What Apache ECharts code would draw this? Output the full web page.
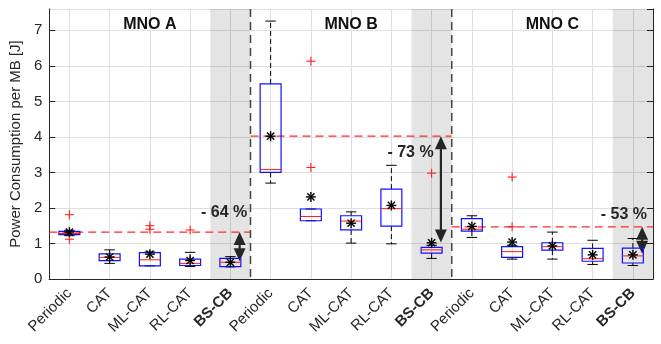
<!DOCTYPE html>
<html><head><meta charset="utf-8">
<script src="https://cdn.jsdelivr.net/npm/echarts@6/dist/echarts.min.js"></script>
<style>html,body{margin:0;padding:0;background:#fff}#c{width:661px;height:344px}</style>
</head><body><div id="c"></div>
<script>
const methods = ['Periodic', 'CAT', 'ML-CAT', 'RL-CAT', 'BS-CB'];
const categories = [...methods, ...methods, ...methods];
const groupTitles = ['MNO A', 'MNO B', 'MNO C'];
const yTickLabels = ['0', '1', '2', '3', '4', '5', '6', '7'];

// box statistics per category (A: 0-4, B: 5-9, C: 10-14)
const whiskerLow  = [1.22, 0.44, 0.37, 0.35, 0.34,  2.70, 1.64, 1.01, 0.99, 0.58,  1.17, 0.56, 0.56, 0.41, 0.38];
const quartile1   = [1.25, 0.52, 0.37, 0.38, 0.35,  3.00, 1.64, 1.38, 1.49, 0.73,  1.35, 0.61, 0.81, 0.50, 0.45];
const medians     = [1.28, 0.61, 0.54, 0.44, 0.47,  3.08, 1.76, 1.63, 1.98, 0.82,  1.40, 0.77, 0.91, 0.57, 0.65];
const quartile3   = [1.34, 0.71, 0.74, 0.56, 0.58,  5.49, 1.97, 1.78, 2.53, 0.89,  1.70, 0.91, 1.02, 0.86, 0.87];
const whiskerHigh = [1.37, 0.82, 0.76, 0.75, 0.63,  7.26, 1.97, 1.89, 3.20, 0.95,  1.78, 0.95, 1.32, 1.09, 1.14];
const means       = [1.32, 0.62, 0.70, 0.52, 0.47,  4.02, 2.31, 1.57, 2.07, 1.02,  1.48, 1.04, 0.93, 0.68, 0.68];
// outliers: [category index, value]
const outliers = [[0, 1.81], [0, 1.12], [2, 1.50], [2, 1.40], [3, 1.38],
                  [6, 6.13], [6, 3.14], [9, 2.98],
                  [11, 2.87], [11, 1.47]];
// reference (periodic mean) lines per group and reduction
const refValues = [1.32, 4.02, 1.47];
const arrowEnds = [0.50, 1.03, 0.71];
const pctTexts = ['- 64 %', '- 73 %', '- 53 %'];
const pctY = [1.87, 3.56, 1.81];
const shadedIdx = [4, 9, 14];
const titleY = 7.17;

const TXT = '#262626';
const FONT = '"Liberation Sans", Arial, Helvetica, sans-serif';

const boxData = categories.map((c, i) => [i, whiskerLow[i], quartile1[i], medians[i], quartile3[i], whiskerHigh[i]]);
const meanData = means.map((m, i) => [i, m]);

function renderBox(params, api) {
  const i = api.value(0);
  const band = api.size([1, 0])[0];
  const lo = api.coord([i, api.value(1)]);
  const q1 = api.coord([i, api.value(2)]);
  const md = api.coord([i, api.value(3)]);
  const q3 = api.coord([i, api.value(4)]);
  const hi = api.coord([i, api.value(5)]);
  const cx = lo[0];
  const bw = band * 0.52, cw = band * 0.26;
  const wStyle = { stroke: '#000', lineWidth: 1, lineDash: [5, 3] };
  const cStyle = { stroke: '#000', lineWidth: 1 };
  return {
    type: 'group', children: [
      { type: 'line', shape: { x1: cx, y1: q3[1], x2: cx, y2: hi[1] }, style: wStyle },
      { type: 'line', shape: { x1: cx, y1: q1[1], x2: cx, y2: lo[1] }, style: wStyle },
      { type: 'line', shape: { x1: cx - cw / 2, y1: hi[1], x2: cx + cw / 2, y2: hi[1] }, style: cStyle },
      { type: 'line', shape: { x1: cx - cw / 2, y1: lo[1], x2: cx + cw / 2, y2: lo[1] }, style: cStyle },
      { type: 'rect', shape: { x: cx - bw / 2, y: q3[1], width: bw, height: q1[1] - q3[1] }, style: { fill: 'none', stroke: '#1010ff', lineWidth: 1.2 } },
      { type: 'line', shape: { x1: cx - bw / 2, y1: md[1], x2: cx + bw / 2, y2: md[1] }, style: { stroke: '#ff1a1a', lineWidth: 1 } }
    ]
  };
}

function renderStar(params, api) {
  const p = api.coord([api.value(0), api.value(1)]);
  const r = 5, d = r * 0.72;
  const s = { stroke: '#000', lineWidth: 1.4 };
  return { type: 'group', children: [
    { type: 'line', shape: { x1: p[0], y1: p[1] - r, x2: p[0], y2: p[1] + r }, style: s },
    { type: 'line', shape: { x1: p[0] - r, y1: p[1], x2: p[0] + r, y2: p[1] }, style: s },
    { type: 'line', shape: { x1: p[0] - d, y1: p[1] - d, x2: p[0] + d, y2: p[1] + d }, style: s },
    { type: 'line', shape: { x1: p[0] - d, y1: p[1] + d, x2: p[0] + d, y2: p[1] - d }, style: s }
  ]};
}

function renderPlus(params, api) {
  const p = api.coord([api.value(0), api.value(1)]);
  const r = 4.5;
  const s = { stroke: '#ff2020', lineWidth: 1.1 };
  return { type: 'group', children: [
    { type: 'line', shape: { x1: p[0], y1: p[1] - r, x2: p[0], y2: p[1] + r }, style: s },
    { type: 'line', shape: { x1: p[0] - r, y1: p[1], x2: p[0] + r, y2: p[1] }, style: s }
  ]};
}

function renderShade(params, api) {
  const c = api.coord([api.value(0), 0]);
  const band = api.size([1, 0])[0];
  const cs = params.coordSys;
  return { type: 'rect', shape: { x: c[0] - band / 2, y: cs.y, width: band, height: cs.height },
    style: { fill: 'rgba(0,0,0,0.105)' } };
}

function renderGroupDecor(params, api) {
  const g = params.dataIndex;
  const band = api.size([1, 0])[0];
  const cs = params.coordSys;
  const first = g * 5, last = g * 5 + 4;
  const ref = refValues[g];
  const xL = api.coord([first, ref])[0] - band / 2;
  const xR = api.coord([last, ref])[0] + band / 2;
  const yRef = api.coord([first, ref])[1];
  const children = [];
  children.push({ type: 'line', shape: { x1: xL, y1: yRef, x2: xR, y2: yRef },
    style: { stroke: '#ff2a2a', lineWidth: 1.2, lineDash: [8, 5] } });
  if (g < 2) {
    children.push({ type: 'line', shape: { x1: xR, y1: cs.y, x2: xR, y2: cs.y + cs.height },
      style: { stroke: '#444', lineWidth: 1.5, lineDash: [8, 5] } });
  }
  const ax = api.coord([last, ref])[0] + band * 0.23;
  const yTop = yRef;
  const yBot = api.coord([last, arrowEnds[g]])[1];
  const hl = 13, hw = 6;
  children.push({ type: 'line', shape: { x1: ax, y1: yTop + hl - 1, x2: ax, y2: yBot - hl + 1 },
    style: { stroke: '#262626', lineWidth: 2.2 } });
  children.push({ type: 'polygon', shape: { points: [[ax, yTop], [ax - hw, yTop + hl], [ax + hw, yTop + hl]] },
    style: { fill: '#262626' } });
  children.push({ type: 'polygon', shape: { points: [[ax, yBot], [ax - hw, yBot - hl], [ax + hw, yBot - hl]] },
    style: { fill: '#262626' } });
  const pxOff = [0.42, 0.05, 0.35][g];
  const tx = api.coord([last, pctY[g]])[0] + band * pxOff;
  const ty = api.coord([last, pctY[g]])[1];
  children.push({ type: 'text', x: tx, y: ty, style: { text: pctTexts[g], fill: TXT,
    font: 'bold 16px ' + FONT, align: 'right', verticalAlign: 'middle' } });
  const mid = api.coord([first + 2, titleY]);
  children.push({ type: 'text', x: mid[0], y: mid[1], style: { text: groupTitles[g], fill: '#111',
    font: 'bold 16px ' + FONT, align: 'center', verticalAlign: 'middle' } });
  return { type: 'group', children };
}

const chart = echarts.init(document.getElementById('c'));
chart.setOption({
  animation: false,
  grid: { left: 49, right: 8, top: 9, bottom: 65 },
  xAxis: [{
    type: 'category', data: categories, boundaryGap: true,
    axisLine: { lineStyle: { color: TXT, width: 1 } },
    axisTick: { alignWithLabel: true, inside: true, length: 5, lineStyle: { color: TXT } },
    splitLine: { show: true, alignWithLabel: true, lineStyle: { color: '#dfdfdf', width: 1 } },
    axisLabel: {
      rotate: 45, margin: 12, color: TXT, interval: 0,
      formatter: v => v === 'BS-CB' ? '{b|' + v + '}' : '{n|' + v + '}',
      rich: {
        n: { fontSize: 15, fontFamily: FONT, color: TXT },
        b: { fontSize: 15, fontFamily: FONT, color: TXT, fontWeight: 'bold' }
      }
    }
  }, {
    type: 'category', data: categories, position: 'top', boundaryGap: true,
    axisLine: { lineStyle: { color: TXT, width: 1 } },
    axisTick: { alignWithLabel: true, inside: true, length: 5, lineStyle: { color: TXT } },
    axisLabel: { show: false }, splitLine: { show: false }
  }],
  yAxis: [{
    type: 'value', min: 0, max: 7.6, interval: 1,
    name: 'Power Consumption per MB [J]', nameLocation: 'middle', nameGap: 20,
    nameTextStyle: { fontSize: 15, fontFamily: FONT, color: TXT },
    axisLine: { show: true, lineStyle: { color: TXT, width: 1 } },
    axisTick: { show: true, inside: true, length: 6, lineStyle: { color: TXT } },
    splitLine: { show: true, lineStyle: { color: '#dfdfdf', width: 1 } },
    axisLabel: { fontSize: 15, fontFamily: FONT, color: TXT, margin: 7, showMaxLabel: false,
      formatter: v => yTickLabels[Math.round(v)] !== undefined && Math.abs(v - Math.round(v)) < 1e-6 ? yTickLabels[Math.round(v)] : '' }
  }, {
    type: 'value', min: 0, max: 7.6, interval: 1, position: 'right',
    axisLine: { show: true, lineStyle: { color: TXT, width: 1 } },
    axisTick: { show: true, inside: true, length: 6, lineStyle: { color: TXT } },
    splitLine: { show: false }, axisLabel: { show: false }
  }],
  series: [
    { type: 'custom', renderItem: renderShade, data: shadedIdx.map(i => [i, 0]), encode: { x: 0, y: 1 }, z: 1, silent: true },
    { type: 'custom', renderItem: renderGroupDecor, data: refValues.map((v, g) => [g * 5, v]), encode: { x: 0, y: 1 }, z: 3, silent: true },
    { type: 'custom', renderItem: renderBox, data: boxData, encode: { x: 0, y: [1, 2, 3, 4, 5] }, z: 4, silent: true },
    { type: 'custom', renderItem: renderPlus, data: outliers, encode: { x: 0, y: 1 }, z: 5, silent: true },
    { type: 'custom', renderItem: renderStar, data: meanData, encode: { x: 0, y: 1 }, z: 6, silent: true }
  ]
});
</script></body></html>
